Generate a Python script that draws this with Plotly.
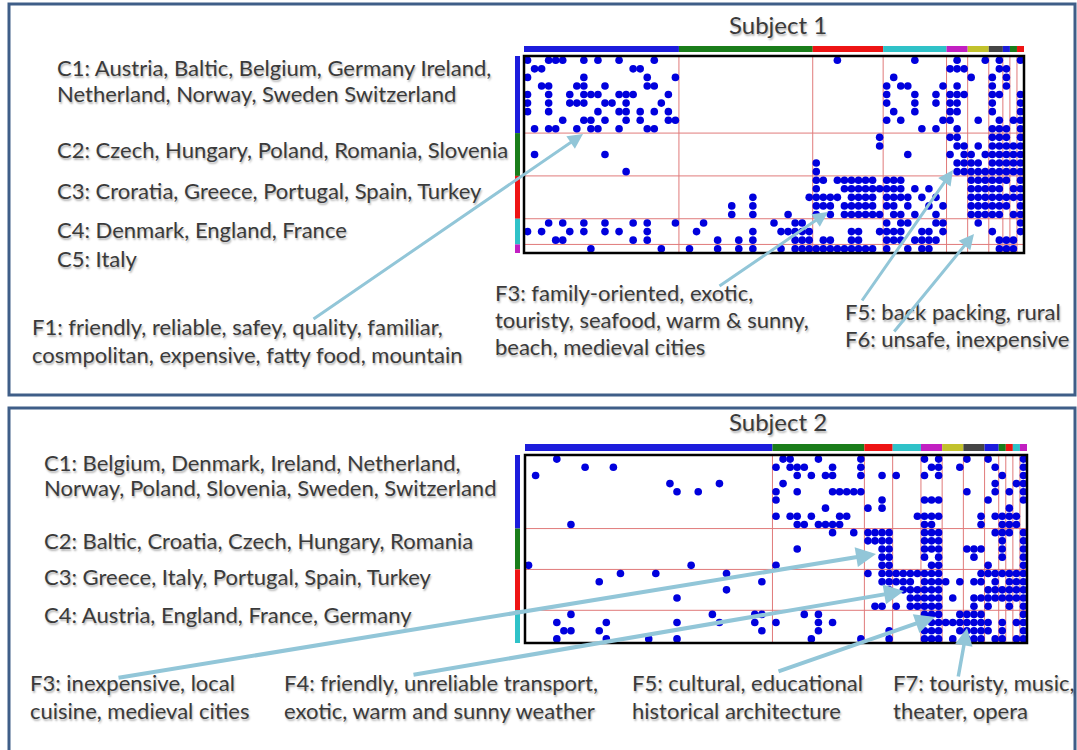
import plotly.graph_objects as go

# ---------------- data ----------------
# Subject 1: 23 countries (rows) x 71 features (cols); each row lists the columns with a dot
S1_DOTS = [
    [0, 3, 4, 5, 8, 10, 13, 18, 44, 55, 61, 65, 67, 70],
    [1, 2, 15, 16, 60, 61, 62, 67, 68],
    [0, 8, 17, 21, 52, 63, 66, 68],
    [2, 3, 7, 8, 11, 17, 18, 51, 53, 54, 59, 61, 66, 68],
    [0, 3, 6, 8, 9, 10, 13, 14, 15, 20, 51, 55, 58, 60, 61, 62, 66, 67, 70],
    [0, 3, 6, 7, 8, 11, 12, 14, 19, 51, 55, 58, 60, 61, 66, 70],
    [0, 3, 10, 13, 14, 16, 18, 20, 52, 55, 60, 61, 66, 70],
    [5, 8, 9, 11, 14, 16, 20, 21, 51, 53, 59, 60, 64, 67, 69, 70],
    [1, 3, 4, 7, 9, 10, 13, 17, 18, 56, 58, 61, 66, 67, 68, 70],
    [50, 60, 61, 66, 67, 68, 70],
    [50, 61, 62, 64, 66, 67, 68, 69, 70],
    [1, 11, 54, 60, 62, 63, 65, 66, 67, 68, 69, 70],
    [41, 61, 62, 63, 64, 66, 67, 68, 69, 70],
    [14, 41, 61, 62, 63, 64, 65, 66, 67, 68, 69, 70],
    [41, 42, 44, 45, 46, 47, 48, 49, 51, 52, 53, 63, 64, 65, 66, 67, 68, 70],
    [41, 45, 46, 47, 48, 49, 50, 51, 52, 53, 55, 57, 63, 64, 65, 66, 67, 69, 70],
    [32, 40, 41, 42, 43, 44, 46, 47, 48, 49, 51, 52, 53, 54, 56, 58, 63, 64, 65, 66, 67, 68, 69, 70],
    [29, 32, 41, 42, 43, 45, 46, 47, 48, 49, 51, 52, 54, 57, 59, 63, 64, 65, 66, 67, 68, 70],
    [29, 32, 37, 41, 43, 45, 46, 47, 48, 49, 50, 52, 53, 55, 58, 63, 64, 65, 66, 67, 69, 70],
    [3, 5, 8, 11, 15, 17, 21, 25, 35, 38, 39, 51, 53, 54, 58, 59, 64, 70],
    [0, 2, 6, 8, 11, 13, 17, 24, 32, 36, 37, 38, 39, 40, 46, 47, 50, 51, 52, 53, 56, 57, 59, 66, 70],
    [4, 5, 15, 17, 27, 30, 32, 38, 39, 40, 42, 43, 46, 47, 51, 52, 53, 55, 56, 57, 58, 67, 68, 69],
    [9, 19, 23, 27, 30, 32, 36, 38, 39, 40, 41, 42, 43, 44, 45, 46, 47, 48, 49, 51, 54, 56, 57, 67, 68, 69],
]
S1_COL_GROUPS = [22, 19, 10, 9, 3, 3, 2, 1, 1, 1]
S1_ROW_GROUPS = [9, 5, 5, 3, 1]

S2_DOTS = [
    [4, 36, 37, 41, 47, 56, 58, 62, 65, 70],
    [8, 12, 35, 37, 38, 39, 43, 47, 57, 58, 61, 66, 70],
    [1, 38, 40, 42, 43, 47, 50, 52, 56, 58, 67, 70],
    [20, 27, 36, 66, 69, 70],
    [21, 24, 35, 38, 43, 44, 45, 46, 47, 62, 66, 68, 70],
    [35, 50, 56, 57, 58, 65, 70],
    [42, 48, 50, 68],
    [35, 37, 38, 40, 44, 45, 55, 56, 57, 58, 64, 66, 67, 68, 69],
    [6, 38, 39, 41, 42, 43, 44, 56, 57, 64, 67, 68, 69],
    [43, 46, 48, 49, 50, 51, 56, 57, 58, 66, 67, 68, 70],
    [48, 49, 50, 51, 56, 57, 58, 67, 70],
    [38, 50, 51, 56, 57, 58, 62, 63, 64, 67, 70],
    [50, 51, 56, 58, 63, 67, 70],
    [0, 23, 35, 50, 51, 57, 58, 65, 70],
    [13, 18, 28, 48, 50, 51, 52, 53, 54, 55, 56, 57, 58, 64, 65, 66, 67, 68, 69, 70],
    [10, 33, 50, 51, 52, 53, 54, 56, 57, 58, 59, 61, 63, 64, 66, 68, 69, 70],
    [28, 51, 53, 54, 55, 56, 57, 58, 65, 66, 67, 68, 69, 70],
    [21, 54, 55, 56, 57, 58, 60, 63, 64, 65, 66, 67, 68, 69, 70],
    [49, 50, 52, 54, 55, 56, 57, 58, 63, 65, 68, 70],
    [6, 26, 32, 33, 39, 41, 56, 57, 58, 61, 62, 63, 64, 70],
    [4, 11, 21, 27, 32, 35, 41, 43, 57, 58, 59, 60, 61, 62, 63, 64, 65, 67, 69, 70],
    [5, 6, 10, 33, 41, 51, 56, 57, 58, 61, 62, 63, 64, 65, 67, 70],
    [4, 11, 17, 21, 40, 47, 51, 56, 57, 58, 60, 62, 63, 64, 66, 67, 69, 70],
]
S2_COL_GROUPS = [35, 13, 4, 4, 3, 3, 3, 2, 1, 1, 1, 1]
S2_ROW_GROUPS = [9, 5, 5, 4]

S1_TITLE = "Subject 1"
S2_TITLE = "Subject 2"
S1_LABELS = [
    "C1: Austria, Baltic, Belgium, Germany Ireland,",
    "Netherland, Norway, Sweden Switzerland",
    "C2: Czech, Hungary, Poland, Romania, Slovenia",
    "C3: Croratia, Greece, Portugal, Spain, Turkey",
    "C4: Denmark, England, France",
    "C5: Italy",
    "F1: friendly, reliable, safey, quality, familiar,",
    "cosmpolitan, expensive, fatty food, mountain",
    "F3: family-oriented, exotic,",
    "touristy, seafood, warm &amp; sunny,",
    "beach, medieval cities",
    "F5: back packing, rural",
    "F6: unsafe, inexpensive",
]
S2_LABELS = [
    "C1: Belgium, Denmark, Ireland, Netherland,",
    "Norway, Poland, Slovenia, Sweden, Switzerland",
    "C2: Baltic, Croatia, Czech, Hungary, Romania",
    "C3: Greece, Italy, Portugal, Spain, Turkey",
    "C4: Austria, England, France, Germany",
    "F3: inexpensive, local",
    "cuisine, medieval cities",
    "F4: friendly, unreliable transport,",
    "exotic, warm and sunny weather",
    "F5: cultural, educational",
    "historical architecture",
    "F7: touristy, music,",
    "theater, opera",
]

# ---------------- layout / style ----------------
W, H = 1077, 750
GROUP_COLORS = ["#1c1cdc", "#1a7d1a", "#ee1414", "#2fc2c8", "#c21fc2", "#c2c22c", "#454545"]
DOT_COLOR = "#0000dd"
RED_LINE = "#e07a7a"
ARROW_COLOR = "#92c6d8"
BORDER_COLOR = "#3f5e88"
TEXT_COLOR = "#3a3a3a"
FONT = "Lato, sans-serif"
SHADOW = "1px 2px 2px rgba(0,0,0,0.30)"
LABEL_SIZE = 22
TITLE_SIZE = 24

S1_LABEL_POS = [(55, 67), (55, 94), (55, 150), (55, 190), (55, 230), (55, 259),
                (30, 326), (30, 354), (493, 292), (493, 319), (493, 346), (843, 311), (843, 339)]
S2_LABEL_POS = [(42, 462), (42, 488), (42, 540), (42, 576), (42, 614),
                (28, 682), (28, 710), (282, 682), (282, 710), (630, 682), (630, 710), (891, 682), (891, 710)]

# arrows: (head_x, head_y, tail_x, tail_y, width) in screen pixels
ARROWS = [
    (583, 134, 312, 320, 3), (828, 212, 718, 287, 3), (953, 170, 861, 302, 3), (974, 234, 893, 333, 3),
    (876, 554, 117, 678, 4), (904, 591, 412, 675, 4), (935, 617, 777, 672, 4), (967, 628, 958, 678, 3.5),
]


def px_x(x):
    return x / W


def px_y(y):
    return 1 - y / H


fig = go.Figure()
shapes = []
annotations = []


def add_matrix(dots, col_groups, row_groups, idx, frame, bar_y, left_bar_x):
    xa = "x" if idx == 1 else f"x{idx}"
    ya = "y" if idx == 1 else f"y{idx}"
    xs, ys = [], []
    for r, cols in enumerate(dots):
        for c in cols:
            xs.append(c)
            ys.append(r)
    fig.add_trace(go.Scatter(x=xs, y=ys, mode="markers", xaxis=xa, yaxis=ya,
                             marker=dict(size=7.6, color=DOT_COLOR, line=dict(width=0)),
                             hoverinfo="skip", showlegend=False))
    ncols, nrows = sum(col_groups), sum(row_groups)
    x0, x1, y0, y1 = frame
    axkey = "xaxis" if idx == 1 else f"xaxis{idx}"
    aykey = "yaxis" if idx == 1 else f"yaxis{idx}"
    fig.update_layout({
        axkey: dict(domain=[px_x(x0), px_x(x1)], range=[-0.5, ncols - 0.5], anchor=ya,
                    showgrid=False, zeroline=False, showticklabels=False, ticks="", fixedrange=True),
        aykey: dict(domain=[px_y(y1), px_y(y0)], range=[nrows - 0.5, -0.5], anchor=xa,
                    showgrid=False, zeroline=False, showticklabels=False, ticks="", fixedrange=True),
    })
    s = 0
    for i, g in enumerate(col_groups):
        e = s + g
        shapes.append(dict(type="rect", xref=xa, yref="paper", x0=s - 0.5, x1=e - 0.5,
                           y0=px_y(bar_y[1]), y1=px_y(bar_y[0]),
                           fillcolor=GROUP_COLORS[i % len(GROUP_COLORS)], line=dict(width=0)))
        if e < ncols:
            shapes.append(dict(type="line", xref=xa, yref=f"{ya} domain", x0=e - 0.5, x1=e - 0.5,
                               y0=0, y1=1, line=dict(color=RED_LINE, width=1), layer="below"))
        s = e
    s = 0
    for i, g in enumerate(row_groups):
        e = s + g
        shapes.append(dict(type="rect", xref="paper", yref=ya, x0=px_x(left_bar_x[0]), x1=px_x(left_bar_x[1]),
                           y0=s - 0.5, y1=e - 0.5,
                           fillcolor=GROUP_COLORS[i % len(GROUP_COLORS)], line=dict(width=0)))
        if e < nrows:
            shapes.append(dict(type="line", xref=f"{xa} domain", yref=ya, x0=0, x1=1,
                               y0=e - 0.5, y1=e - 0.5, line=dict(color=RED_LINE, width=1), layer="below"))
        s = e
    shapes.append(dict(type="rect", xref=f"{xa} domain", yref=f"{ya} domain", x0=0, x1=1, y0=0, y1=1,
                       line=dict(color="black", width=2.5), layer="above"))


add_matrix(S1_DOTS, S1_COL_GROUPS, S1_ROW_GROUPS, 1, (524, 1024, 56, 253), (46, 52), (515, 520))
add_matrix(S2_DOTS, S2_COL_GROUPS, S2_ROW_GROUPS, 2, (525, 1027, 455, 643), (444, 451), (515, 520))

# panel borders
shapes.append(dict(type="rect", xref="paper", yref="paper", x0=px_x(9), x1=px_x(1075),
                   y0=px_y(395), y1=px_y(4), line=dict(color=BORDER_COLOR, width=3)))
shapes.append(dict(type="rect", xref="paper", yref="paper", x0=px_x(9), x1=px_x(1075),
                   y0=px_y(770), y1=px_y(408), line=dict(color=BORDER_COLOR, width=3)))


def label(text, x, y, size=LABEL_SIZE, anchor="left"):
    annotations.append(dict(text=text, x=px_x(x), y=px_y(y), xref="paper", yref="paper",
                            xanchor=anchor, yanchor="middle", showarrow=False,
                            font=dict(family=FONT, size=size, color=TEXT_COLOR, shadow=SHADOW)))


label(S1_TITLE, 778, 24, size=TITLE_SIZE, anchor="center")
label(S2_TITLE, 778, 421, size=TITLE_SIZE, anchor="center")
for t, (x, y) in zip(S1_LABELS, S1_LABEL_POS):
    label(t, x, y)
for t, (x, y) in zip(S2_LABELS, S2_LABEL_POS):
    label(t, x, y)

for hx, hy, tx, ty, w in ARROWS:
    annotations.append(dict(text="", x=px_x(hx), y=px_y(hy), xref="paper", yref="paper",
                            ax=tx - hx, ay=ty - hy, axref="pixel", ayref="pixel",
                            showarrow=True, arrowhead=2, arrowsize=1, arrowwidth=w,
                            arrowcolor=ARROW_COLOR, standoff=0, startstandoff=0))

fig.update_layout(width=W, height=H, margin=dict(l=0, r=0, t=0, b=0),
                  paper_bgcolor="white", plot_bgcolor="white",
                  shapes=shapes, annotations=annotations, showlegend=False)

# remove the page's default body margin so the 1077x750 figure fills the window exactly
fig.write_html("out.html", config={"displayModeBar": False},
               post_script="document.body.style.margin='0';document.body.style.overflow='hidden';")
